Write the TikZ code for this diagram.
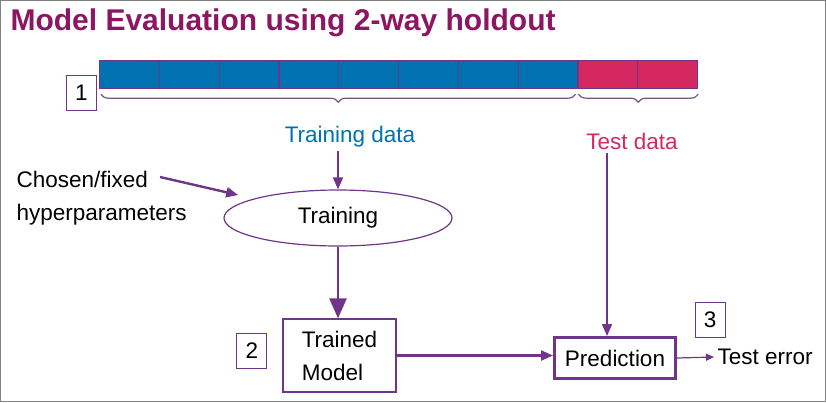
\documentclass[tikz,border=0pt]{standalone}
\usepackage{fontspec}
\setmainfont{Liberation Sans}
\usepackage{tikz}
\usetikzlibrary{shapes.geometric,arrows.meta}
\usetikzlibrary{positioning}
\usetikzlibrary{decorations.pathreplacing}
\definecolor{TitlePurple}{RGB}{140,22,98}
\definecolor{LinePurple}{RGB}{112,52,136}
\definecolor{TrainBlue}{RGB}{0,114,178}
\definecolor{TestRed}{RGB}{214,40,96}

\begin{document}
\begin{tikzpicture}[x=1pt, y=-1pt, font=\fontsize{22.5}{33}\selectfont,
    cell/.style={draw=LinePurple, line width=1.2pt, anchor=north west, minimum width=59.8pt, minimum height=28pt, inner sep=0pt},
    numbox/.style={draw=LinePurple, line width=1pt, minimum width=30pt, minimum height=35pt, inner sep=0pt},
    arr/.style={draw=LinePurple, line width=1.8pt, -{Triangle[length=12pt,width=10pt]}},
    brc/.style={draw=LinePurple!60!gray, line width=1.2pt, decorate, decoration={brace, mirror, amplitude=8pt}}]
			\useasboundingbox (0,0) rectangle (826,402);
			\draw[gray, line width=1pt] (0.5,0.5) rectangle (825.5,401.5);
			\node[anchor=west, text=TitlePurple, font=\fontsize{30}{32}\selectfont\bfseries] (Title) at (7,23) {Model Evaluation using 2-way holdout};
			% the data split into folds
			\foreach \i in {0,...,7}
				\node[cell, fill=TrainBlue] (c\i) at (99+\i*59.8,60) {};
			\foreach \i in {8,9}
				\node[cell, fill=TestRed] (c\i) at (99+\i*59.8,60) {};
			\node[numbox, anchor=north east] (One) at (97,75) {1};
			\draw[brc] ([xshift=2pt,yshift=-5pt]c0.south west) -- ([xshift=-3pt,yshift=-5pt]c7.south east);
			\draw[brc] ([xshift=1pt,yshift=-5pt]c8.south west) -- ([yshift=-5pt]c9.south east);
			\node[text=TrainBlue] (TrainLbl) at (350,137) {Training data};
			\node[text=TestRed] (TestLbl) at (632,141) {Test data};
			% training and prediction
			\node[draw=LinePurple, line width=1.2pt, ellipse, minimum width=228pt, minimum height=56pt] (Training) at (338,218) {Training};
			\node[align=left, anchor=west] (Hyper) at (13,198) {Chosen/fixed\\hyperparameters};
			\coordinate (HyperTip) at (160,177);
			\node[draw=LinePurple, line width=1.2pt, align=left, minimum width=113pt, minimum height=73pt] (Model) at (339.5,355.5) {Trained\\Model};
			\node[numbox, left=15pt of Model, yshift=5pt] (Two) {2};
			\node[draw=LinePurple, line width=3pt, minimum width=121pt, minimum height=41pt, inner sep=2pt] (Predict) at (615,358) {Prediction};
			\node[numbox] (Three) at (710,319.5) {3};
			\node[anchor=west] (Err) at (714,357) {Test error};
			\draw[arr, line width=2.4pt, shorten >=16pt] (HyperTip) -- (Training);
			\draw[arr] (TrainLbl.south -| Training.north) -- (Training.north);
			\draw[arr, line width=2.6pt, -{Triangle[length=20pt,width=17pt]}] (Training.south) -- (Training.south |- Model.north);
			\draw[arr, line width=2.2pt] (Model.east) -- (Model.east -| Predict.west);
			\draw[arr] ([xshift=-8pt]TestLbl.south -| Predict.north) -- ([xshift=-8pt]Predict.north);
			\draw[arr, line width=1.2pt, -{Triangle[length=8pt,width=7pt]}] (Predict.east) -- (Err.west);
		\end{tikzpicture}
\end{document}
